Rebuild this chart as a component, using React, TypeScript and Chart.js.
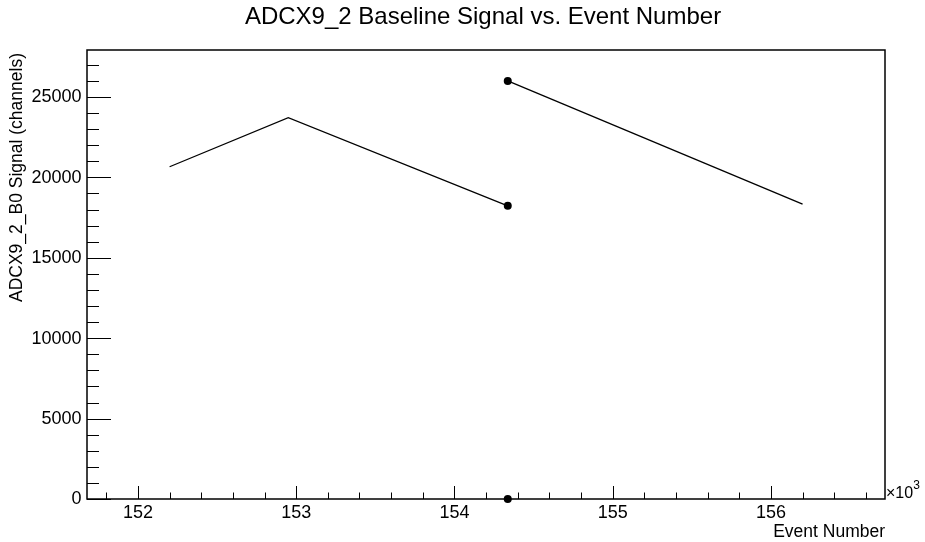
import React, { useEffect, useRef } from "react";
import { Chart, registerables } from "chart.js";

Chart.register(...registerables);

const TITLE = "ADCX9_2 Baseline Signal vs. Event Number";
const X_TITLE = "Event Number";
const Y_TITLE = "ADCX9_2_B0 Signal (channels)";

// segment A (no markers except the last point)
const segA_x = [152200, 152950, 154337];
const segA_y = [20660, 23710, 18230];
// segment B (marker on the first point)
const segB_x = [154337, 156200];
const segB_y = [26000, 18340];
// isolated point
const lone_x = [154337];
const lone_y = [0];

const X_MIN = 151678;
const X_MAX = 156721;
const Y_MIN = 0;
const Y_MAX = 27920;

const xMajorTicks = [152000, 153000, 154000, 155000, 156000];
const xMajorLabels = ["152", "153", "154", "155", "156"];
const xMinorStep = 200;
const yMajorTicks = [0, 5000, 10000, 15000, 20000, 25000];
const yMajorLabels = ["0", "5000", "10000", "15000", "20000", "25000"];
const yMinorStep = 1000;

const FONT = "'Liberation Sans', Arial, Helvetica, sans-serif";

const rootAxes = {
  id: "rootAxes",
  afterDraw(chart: any) {
    const ctx = chart.ctx as CanvasRenderingContext2D;
    const a = chart.chartArea;
    const xs = chart.scales.x;
    const ys = chart.scales.y;
    ctx.save();
    ctx.strokeStyle = "#000";
    ctx.fillStyle = "#000";
    // frame
    ctx.lineWidth = 1.5;
    ctx.strokeRect(a.left, a.top, a.right - a.left, a.bottom - a.top);
    ctx.lineWidth = 1;
    // x ticks (inward, from bottom)
    const xMajLen = 13;
    const xMinLen = 6.5;
    const startX = Math.ceil(X_MIN / xMinorStep) * xMinorStep;
    for (let v = startX; v <= X_MAX; v += xMinorStep) {
      const px = Math.round(xs.getPixelForValue(v)) + 0.5;
      const major = v % 1000 === 0;
      ctx.beginPath();
      ctx.moveTo(px, a.bottom);
      ctx.lineTo(px, a.bottom - (major ? xMajLen : xMinLen));
      ctx.stroke();
    }
    // y ticks (inward, from left)
    const yMajLen = 24;
    const yMinLen = 12;
    for (let v = Y_MIN; v <= Y_MAX; v += yMinorStep) {
      const py = Math.round(ys.getPixelForValue(v)) + 0.5;
      const major = v % 5000 === 0;
      ctx.beginPath();
      ctx.moveTo(a.left, py);
      ctx.lineTo(a.left + (major ? yMajLen : yMinLen), py);
      ctx.stroke();
    }
    // x labels
    ctx.font = `18px ${FONT}`;
    ctx.textAlign = "center";
    ctx.textBaseline = "alphabetic";
    xMajorTicks.forEach((v, i) => {
      ctx.fillText(xMajorLabels[i], xs.getPixelForValue(v), 517.5);
    });
    // y labels
    ctx.textAlign = "right";
    ctx.textBaseline = "middle";
    yMajorTicks.forEach((v, i) => {
      ctx.fillText(yMajorLabels[i], a.left - 5.5, ys.getPixelForValue(v) + 0.5);
    });
    // x10^3
    ctx.textAlign = "left";
    ctx.textBaseline = "alphabetic";
    ctx.font = `16px ${FONT}`;
    ctx.fillText("\u00d710", a.right + 1, 497.5);
    const w = ctx.measureText("\u00d710").width;
    ctx.font = `12px ${FONT}`;
    ctx.fillText("3", a.right + 1 + w, 489);
    // axis titles
    ctx.font = `17.5px ${FONT}`;
    ctx.textAlign = "right";
    ctx.fillText(X_TITLE, a.right, 536.5);
    ctx.save();
    ctx.translate(21.5, a.top + 3);
    ctx.rotate(-Math.PI / 2);
    ctx.textAlign = "right";
    ctx.fillText(Y_TITLE, 0, 0);
    ctx.restore();
    // title
    ctx.font = `24px ${FONT}`;
    ctx.textAlign = "center";
    ctx.fillText(TITLE, 483, 23.5);
    ctx.restore();
  },
};

export default function App() {
  const ref = useRef<HTMLCanvasElement>(null);
  useEffect(() => {
    const canvas = ref.current!;
    const toPts = (xs: number[], ys: number[]) => xs.map((x, i) => ({ x, y: ys[i] }));
    const chart = new Chart(canvas, {
      type: "line",
      data: {
        datasets: [
          {
            data: toPts(segA_x, segA_y),
            borderColor: "#000",
            borderWidth: 1.3,
            pointRadius: segA_x.map((_, i) => (i === segA_x.length - 1 ? 4 : 0)),
            pointBackgroundColor: "#000",
            pointBorderWidth: 0,
            tension: 0,
            clip: false as any,
          },
          {
            data: toPts(segB_x, segB_y),
            borderColor: "#000",
            borderWidth: 1.3,
            pointRadius: segB_x.map((_, i) => (i === 0 ? 4 : 0)),
            pointBackgroundColor: "#000",
            pointBorderWidth: 0,
            tension: 0,
            clip: false as any,
          },
          {
            data: toPts(lone_x, lone_y),
            borderColor: "#000",
            showLine: false,
            pointRadius: 4,
            pointBackgroundColor: "#000",
            pointBorderWidth: 0,
            clip: false as any,
          },
        ],
      },
      options: {
        responsive: false,
        animation: false,
        devicePixelRatio: 1,
        layout: { padding: { left: 87, top: 50, right: 40, bottom: 43 } },
        plugins: { legend: { display: false }, tooltip: { enabled: false }, title: { display: false } },
        scales: {
          x: { type: "linear", min: X_MIN, max: X_MAX, display: false },
          y: { type: "linear", min: Y_MIN, max: Y_MAX, display: false },
        },
      },
      plugins: [rootAxes],
    });
    return () => chart.destroy();
  }, []);
  return (
    <div style={{ position: "fixed", left: 0, top: 0, width: 925, height: 542, background: "#fff" }}>
      <canvas ref={ref} width={925} height={542} />
    </div>
  );
}
